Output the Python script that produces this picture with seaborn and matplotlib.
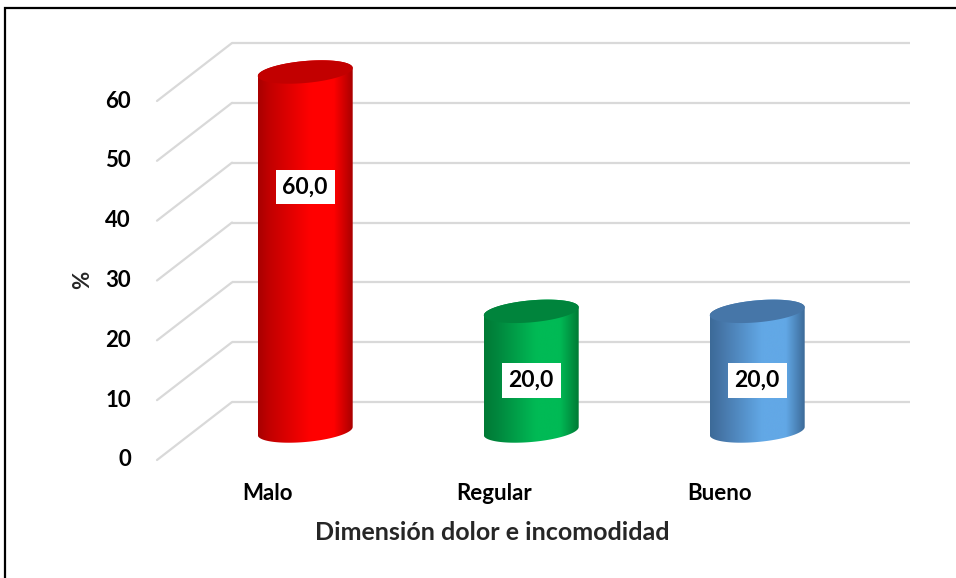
import numpy as np
import pandas as pd
import matplotlib
matplotlib.use("Agg")
import matplotlib.pyplot as plt
from matplotlib.colors import LinearSegmentedColormap
from matplotlib.patches import Polygon, Rectangle
import seaborn as sns

# ---------------- data ----------------
categories = ["Malo", "Regular", "Bueno"]
values = [60.0, 20.0, 20.0]
value_labels = ["60,0", "20,0", "20,0"]
label_heights = [40.8, 8.5, 8.5]
y_ticks = [0, 10, 20, 30, 40, 50, 60]
x_title = "Dimensión dolor e incomodidad"
y_title = "%"

bright = ["#FF0000", "#00BA55", "#62A8E6"]
edge_dark = ["#A80000", "#007A35", "#3C6A98"]
top_col = ["#C20000", "#00843C", "#4676A8"]

sns.set_style("white")
plt.rcParams["font.family"] = ["Lato", "DejaVu Sans"]
plt.rcParams["font.weight"] = "bold"

W, H = 956, 578
fig = plt.figure(figsize=(W / 100, H / 100), dpi=100)
ax = fig.add_axes([194.5 / W, 147 / H, 678 / W, 359 / H])

df = pd.DataFrame({"cat": categories, "val": values})
sns.barplot(data=df, x="cat", y="val", hue="cat", palette=bright,
            width=0.42, legend=False, ax=ax)

XL = (-0.49, 2.51)
YL = (0, 60)
ax.set_xlim(*XL)
ax.set_ylim(*YL)
ax.set_autoscale_on(False)
ax.axis("off")

kx = 678 / (XL[1] - XL[0])   # px per x unit
ky = 359 / (YL[1] - YL[0])   # px per y unit
dxd = 37.5 / kx              # half-depth offset in data units
dyd = 29.0 / ky

# back wall gridlines + left wall diagonals
grid_c = "#D9D9D9"
for v in y_ticks:
    ax.plot([XL[0] + dxd, XL[1] + dxd], [v + dyd, v + dyd], color=grid_c,
            lw=1.6, clip_on=False, zorder=0, solid_capstyle="butt")
    ax.plot([XL[0] - dxd, XL[0] + dxd], [v - dyd, v + dyd], color=grid_c,
            lw=1.6, clip_on=False, zorder=0)
    ax.annotate(f"{v}", xy=(XL[0] - dxd, v - dyd), xytext=(-26, 0),
                textcoords="offset pixels",
                ha="right", va="center", fontsize=16, fontweight="bold",
                color="black", annotation_clip=False)

# cylinders from seaborn's bars
b_px = 11.0
slope_px = 0.085
for i, p in enumerate(ax.patches[:len(values)]):
    x0 = p.get_x()
    w = p.get_width()
    h = p.get_height()
    p.set_visible(False)
    xc = x0 + w / 2
    a = w / 2
    bd = b_px / ky
    s = slope_px * kx / ky  # data slope

    def ell(yc, t):
        cx = a * np.cos(t)
        return xc + cx, yc + bd * np.sin(t) + s * cx

    t_up = np.linspace(0, np.pi, 80)
    t_lo = np.linspace(np.pi, 2 * np.pi, 80)
    xu, yu = ell(h, t_up)
    xl, yl = ell(0, t_lo)
    body = np.vstack([np.column_stack([xu, yu]), np.column_stack([xl, yl])])
    body_patch = Polygon(body, closed=True, fc="none", ec="none", zorder=2,
                         clip_on=False)
    ax.add_patch(body_patch)

    cmap = LinearSegmentedColormap.from_list(
        f"c{i}", [(0, edge_dark[i]), (0.12, top_col[i]), (0.55, bright[i]),
                  (0.8, bright[i]), (1.0, edge_dark[i])])
    grad = np.linspace(0, 1, 256).reshape(1, -1)
    im = ax.imshow(grad, cmap=cmap, aspect="auto", interpolation="bicubic",
                   extent=[x0, x0 + w, -bd * 3 - s * a, h + bd * 3 + s * a],
                   zorder=2)
    im.set_clip_box(fig.bbox)
    im.set_clip_path(body_patch)

    t_all = np.linspace(0, 2 * np.pi, 160)
    xt, yt = ell(h, t_all)
    ax.add_patch(Polygon(np.column_stack([xt, yt]), closed=True,
                         fc=top_col[i], ec="none", zorder=3, clip_on=False))

    ax.text(xc, label_heights[i], value_labels[i], ha="center", va="center",
            fontsize=16.5, fontweight="bold", color="black", zorder=5,
            bbox=dict(boxstyle="square,pad=0.3", fc="white", ec="none"))

    ax.annotate(categories[i], xy=(xc - dxd, 0 - dyd), xytext=(0, -33),
                textcoords="offset pixels", ha="center", va="center",
                fontsize=16, fontweight="bold", color="black",
                annotation_clip=False)

ax.set_xlim(*XL)
ax.set_ylim(*YL)

fig.text(492 / W, 1 - 532 / H, x_title, ha="center", va="center",
         fontsize=18, fontweight="bold")
fig.text(83 / W, 1 - 280 / H, y_title, ha="center", va="center",
         rotation=90, fontsize=16, fontweight="bold")

fig.add_artist(Rectangle((4.5 / W, -0.05), 1.2, 1 - 8.5 / H + 0.05,
                         transform=fig.transFigure, fill=False,
                         ec="black", lw=1.6))

fig.savefig("out.png", dpi=100)
